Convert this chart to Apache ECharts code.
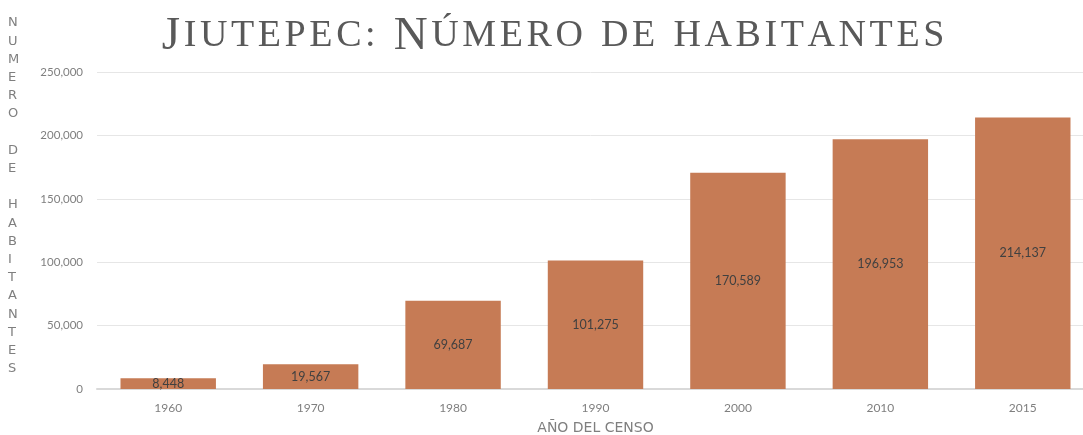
<!DOCTYPE html>
<html>
<head>
<meta charset="utf-8">
<script src="https://cdn.jsdelivr.net/npm/echarts@6/dist/echarts.min.js"></script>
<style>
  html, body { margin: 0; padding: 0; background: #fff; }
  #chart { width: 1083px; height: 435px; }
</style>
</head>
<body>
<div id="chart"></div>
<script>
// datos del censo
const years = ['1960', '1970', '1980', '1990', '2000', '2010', '2015'];
const population = [8448, 19567, 69687, 101275, 170589, 196953, 214137];
const yTicks = [0, 50000, 100000, 150000, 200000, 250000];
const titleText = 'Jiutepec: Número de habitantes';

const fmt = v => v.toLocaleString('en-US');
const grey = '#7f7f7f';

// versalitas: mayúsculas grandes, el resto en mayúscula pequeña, con algo de espaciado
let smallCaps = titleText.split('').map(ch => {
  if (ch === ' ') return '{sp| }';
  let big = ch !== ch.toLowerCase();
  return (big ? '{b|' : '{s|') + ch.toUpperCase() + '}';
}).join('');

let chart = echarts.init(document.getElementById('chart'));

chart.setOption({
  animation: false,
  title: {
    text: smallCaps,
    left: 155,
    top: 8,
    textStyle: {
      rich: {
        b: { fontFamily: 'Liberation Serif', fontWeight: 'normal', fontSize: 47, color: '#595959', padding: [0, 1.8, 0, 1.8] },
        s: { fontFamily: 'Liberation Serif', fontWeight: 'normal', fontSize: 38, color: '#595959', padding: [0, 1.8, 0, 1.8] },
        sp: { fontFamily: 'Liberation Serif', fontSize: 38, padding: [0, 2.5, 0, 2.5] }
      }
    }
  },
  graphic: [{
    type: 'text',
    left: 8,
    top: 14,
    style: {
      text: 'N\nU\nM\nE\nR\nO\n \nD\nE\n \nH\nA\nB\nI\nT\nA\nN\nT\nE\nS',
      font: '13px "DejaVu Sans"',
      fill: grey,
      lineHeight: 18.2,
      align: 'center'
    }
  }],
  grid: { left: 97, right: -11, top: 72, bottom: 46, outerBoundsMode: 'none' },
  xAxis: {
    type: 'category',
    data: years,
    name: 'AÑO DEL CENSO',
    nameLocation: 'middle',
    nameGap: 32,
    nameTextStyle: { color: grey, fontSize: 14, fontFamily: 'DejaVu Sans' },
    axisLine: { lineStyle: { color: '#d9d9d9', width: 2 } },
    axisTick: { show: false },
    axisLabel: { color: grey, fontSize: 12, margin: 13, fontFamily: 'Lato' }
  },
  yAxis: {
    type: 'value',
    min: 0,
    max: yTicks[yTicks.length - 1],
    interval: 50000,
    axisLine: { show: false },
    axisTick: { show: false },
    splitLine: { lineStyle: { color: '#e6e6e6', width: 1 } },
    axisLabel: { color: grey, fontSize: 11.5, margin: 14, fontFamily: 'Lato', formatter: fmt }
  },
  series: [{
    type: 'bar',
    data: population,
    barWidth: '67%',
    itemStyle: { color: '#c67b55' },
    label: {
      show: true,
      position: 'inside',
      color: '#404040',
      fontSize: 12.5,
      fontFamily: 'Lato',
      formatter: p => fmt(p.value)
    }
  }]
});
</script>
</body>
</html>
